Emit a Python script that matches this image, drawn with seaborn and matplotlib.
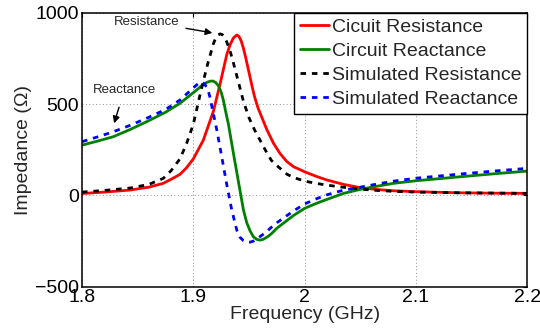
import matplotlib
matplotlib.use("Agg")
import matplotlib.pyplot as plt
import seaborn as sns
import pandas as pd

# ---- data ----
red_x = [1.80, 1.82, 1.843, 1.86, 1.873, 1.880, 1.888, 1.894, 1.90, 1.909, 1.918, 1.924, 1.927,
         1.930, 1.933, 1.936, 1.939, 1.941, 1.943, 1.945, 1.947, 1.949, 1.951, 1.953, 1.955,
         1.958, 1.962, 1.966, 1.972, 1.978, 1.984, 1.990, 2.000, 2.010, 2.020, 2.035, 2.050,
         2.065, 2.080, 2.100, 2.140, 2.170, 2.200]
red_y = [10, 18, 29, 45, 66, 88, 115, 152, 200, 303, 460, 610, 690,
         770, 825, 862, 878, 870, 845, 805, 755, 700, 645, 590, 540,
         480, 420, 360, 285, 228, 185, 157, 129, 105, 84, 60, 42,
         32, 25, 20, 14, 12, 11]

black_x = [1.80, 1.82, 1.843, 1.86, 1.873, 1.880, 1.888, 1.894, 1.900, 1.906, 1.912, 1.918,
           1.920, 1.922, 1.924, 1.926, 1.928, 1.930, 1.933, 1.936, 1.939, 1.942, 1.945,
           1.950, 1.955, 1.9645, 1.970, 1.976, 1.984, 1.990, 2.000, 2.010, 2.020, 2.035,
           2.050, 2.065, 2.080, 2.100, 2.140, 2.200]
black_y = [18, 27, 40, 60, 93, 135, 200, 285, 390, 550, 700, 830,
           860, 877, 884, 880, 866, 840, 790, 725, 655, 585, 515,
           425, 358, 250, 192, 158, 116, 98, 78, 66, 56, 44,
           34, 27, 22, 18, 14, 11]

green_x = [1.80, 1.814, 1.828, 1.843, 1.858, 1.875, 1.888, 1.903, 1.908, 1.912, 1.915, 1.9175,
           1.920, 1.9225, 1.925, 1.927, 1.929, 1.9315, 1.936, 1.9405, 1.945, 1.948, 1.951,
           1.954, 1.957, 1.960, 1.963, 1.967, 1.9705, 1.975, 1.990, 2.000, 2.010, 2.020,
           2.035, 2.050, 2.065, 2.080, 2.100, 2.140, 2.170, 2.200]
green_y = [275, 297, 321, 360, 403, 455, 504, 577, 603, 618, 625, 626,
           618, 600, 565, 520, 460, 390, 230, 75, -80, -150, -195,
           -227, -241, -245, -240, -225, -208, -180, -110, -71, -45, -22,
           11, 33, 50, 66, 80, 102, 118, 133]

blue_x = [1.80, 1.814, 1.828, 1.843, 1.858, 1.875, 1.888, 1.903, 1.906, 1.908, 1.910, 1.912,
          1.9135, 1.915, 1.9165, 1.921, 1.9255, 1.930, 1.9345, 1.939, 1.942, 1.945, 1.948,
          1.951, 1.954, 1.957, 1.960, 1.965, 1.970, 1.975, 1.990, 2.000, 2.010, 2.020,
          2.035, 2.050, 2.065, 2.080, 2.100, 2.140, 2.170, 2.200]
blue_y = [294, 320, 348, 383, 422, 470, 522, 605, 619, 620, 610, 592,
          570, 535, 490, 360, 211, 60, -80, -190, -230, -248, -256,
          -256, -250, -238, -225, -203, -175, -150, -85, -47, -20, 3,
          29, 45, 62, 78, 94, 117, 133, 148]

labels = ["Cicuit Resistance", "Circuit Reactance", "Simulated Resistance", "Simulated Reactance"]
x_ticks = [1.8, 1.9, 2.0, 2.1, 2.2]
x_tick_labels = ["1.8", "1.9", "2", "2.1", "2.2"]
y_ticks = [-500, 0, 500, 1000]

# ---- style ----
sns.set_theme(style="white")
plt.rcParams["font.family"] = ["Liberation Sans", "DejaVu Sans"]

fig = plt.figure(figsize=(5.4, 3.34), dpi=100)
ax = fig.add_axes([0.1519, 0.1416, 0.8246, 0.8204])

series = [
    (red_x, red_y, "#ff0000", "-"),
    (green_x, green_y, "#008000", "-"),
    (black_x, black_y, "#000000", (0, (2.0, 2.1))),
    (blue_x, blue_y, "#0000ff", (0, (2.0, 2.1))),
]
for (xs, ys, col, ls), lab in zip(series, labels):
    df = pd.DataFrame({"f": xs, "z": ys})
    sns.lineplot(data=df, x="f", y="z", ax=ax, color=col, linewidth=2.0,
                 linestyle=ls, label=lab, estimator=None, sort=False)

ax.set_xlim(1.8, 2.2)
ax.set_ylim(-500, 1000)
ax.set_xticks(x_ticks)
ax.set_xticklabels(x_tick_labels)
ax.set_yticks(y_ticks)
ax.tick_params(axis="both", labelsize=14, direction="in", length=3, width=0.8,
               top=True, right=True, colors="black")
ax.tick_params(axis="x", pad=1.5)
ax.tick_params(axis="y", pad=2)
ax.grid(True, linestyle=(0, (1, 2.5)), color="#909090", linewidth=0.7)
for s in ax.spines.values():
    s.set_color("black")
    s.set_linewidth(1.1)
    s.set_visible(True)

ax.set_xlabel("Frequency (GHz)", fontsize=14, labelpad=0)
ax.set_ylabel("Impedance (\u03a9)", fontsize=14, labelpad=2)

leg = ax.legend(loc="upper right", fontsize=14, borderaxespad=0, frameon=True,
                fancybox=False, framealpha=1, edgecolor="black", borderpad=0.3,
                labelspacing=0.33, handletextpad=0.15, handlelength=1.5)
leg.get_frame().set_linewidth(1.0)

ax.annotate("Resistance", xy=(1.9195, 887), xytext=(1.888, 951),
            fontsize=9.5, ha="right", va="center",
            arrowprops=dict(arrowstyle="-|>", color="black", lw=1.0, mutation_scale=10))
ax.annotate("Reactance", xy=(1.8281, 380), xytext=(1.838, 577),
            fontsize=9.5, ha="center", va="center",
            arrowprops=dict(arrowstyle="-|>", color="black", lw=1.0, mutation_scale=10,
                            shrinkA=6))

fig.savefig("out.png", dpi=100)
